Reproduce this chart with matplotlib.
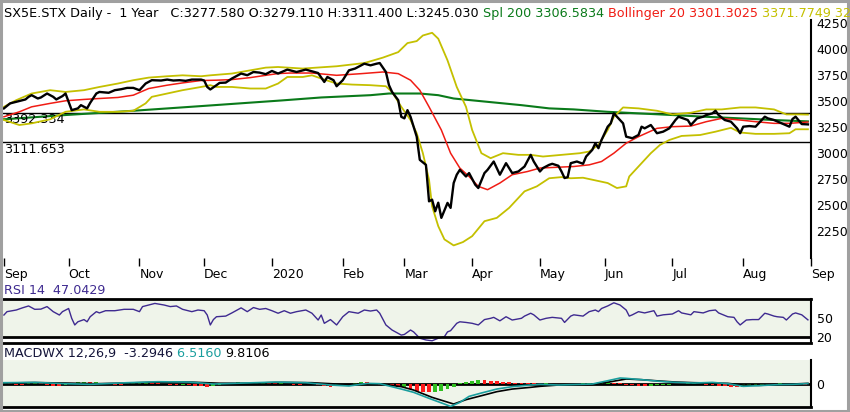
import matplotlib
matplotlib.use("Agg")
import matplotlib.pyplot as plt
import matplotlib.transforms as mtransforms
from matplotlib.patches import Rectangle
import numpy as np

# ---------------- data (session = weekday index from 2 Sep 2019) ----------------
month_pos = [0, 21, 44, 65, 87, 110, 130, 152, 174, 195, 217, 240, 262]
month_lab = ["Sep", "Oct", "Nov", "Dec", "2020", "Feb", "Mar", "Apr", "May", "Jun", "Jul", "Aug", "Sep"]

close_s = [0, 2, 4, 5, 7, 8, 9, 11, 12, 14, 16, 17, 19, 20, 21, 22, 24, 25, 27, 28, 30, 31, 33, 34, 36, 38,
           40, 42, 44, 46, 48, 51, 53, 55, 57, 59, 61, 64, 65, 66, 67, 69, 70, 72, 74, 77, 79, 81, 83, 85,
           87, 89, 92, 95, 98, 102, 104, 105, 107, 108, 110, 112, 114, 117, 119, 121, 122, 124, 125, 126,
           128, 129, 130, 131, 132, 134, 135, 137, 138, 139, 140, 141, 142, 144, 145, 146, 147, 148, 150,
           151, 153, 154, 156, 157, 159, 161, 163, 165, 167, 169, 171, 172, 174, 175, 177, 178, 180, 181,
           182, 183, 184, 186, 188, 189, 191, 192, 193, 194, 196, 197, 198, 199, 201, 202, 204, 206, 207,
           208, 210, 212, 214, 216, 218, 219, 222, 223, 225, 227, 228, 230, 231, 232, 234, 236, 238, 239,
           240, 242, 244, 247, 248, 250, 253, 255, 256, 257, 259, 261]
close_v = [3432, 3480, 3495, 3502, 3518, 3543, 3559, 3527, 3537, 3575, 3543, 3518, 3550, 3575, 3495, 3415,
           3432, 3463, 3432, 3485, 3575, 3590, 3585, 3582, 3607, 3616, 3629, 3629, 3607, 3671, 3703, 3700,
           3709, 3700, 3703, 3697, 3709, 3709, 3700, 3638, 3614, 3655, 3677, 3680, 3719, 3767, 3751, 3782,
           3776, 3761, 3792, 3767, 3805, 3782, 3805, 3772, 3686, 3734, 3703, 3645, 3703, 3798, 3815, 3862,
           3846, 3862, 3868, 3782, 3655, 3590, 3511, 3351, 3336, 3415, 3351, 3160, 2937, 2889, 2538, 2554,
           2442, 2525, 2379, 2523, 2475, 2714, 2794, 2841, 2777, 2810, 2698, 2666, 2810, 2841, 2921, 2794,
           2905, 2810, 2825, 2873, 2985, 2921, 2825, 2858, 2889, 2899, 2880, 2825, 2762, 2770, 2905, 2921,
           2899, 2969, 3033, 3097, 3049, 3128, 3256, 3288, 3384, 3352, 3288, 3160, 3145, 3176, 3256, 3240,
           3272, 3193, 3208, 3240, 3320, 3352, 3320, 3272, 3336, 3352, 3368, 3384, 3409, 3368, 3320, 3304,
           3240, 3193, 3256, 3262, 3256, 3352, 3336, 3320, 3281, 3256, 3330, 3352, 3281, 3278]

sma200_s = [0, 20, 42, 64, 90, 103, 119, 125, 135, 141, 146, 157, 168, 177, 185, 196, 206, 217, 228, 239, 250, 261]
sma200_v = [3327, 3368, 3409, 3454, 3508, 3537, 3559, 3575, 3575, 3559, 3527, 3495, 3463, 3432, 3422, 3399,
            3384, 3368, 3351, 3336, 3320, 3307]

mid_s = [0, 5, 9, 15, 20, 26, 31, 37, 42, 47, 53, 58, 64, 69, 74, 80, 85, 89, 93, 100, 108, 116, 123, 128,
         132, 135, 138, 142, 145, 148, 151, 154, 157, 161, 165, 170, 174, 185, 190, 194, 198, 202, 206, 212,
         217, 223, 228, 233, 239, 244, 250, 255, 261]
mid_v = [3351, 3399, 3447, 3480, 3505, 3518, 3527, 3537, 3559, 3623, 3655, 3677, 3700, 3703, 3709, 3728,
         3750, 3767, 3772, 3772, 3750, 3766, 3782, 3766, 3703, 3607, 3447, 3224, 3001, 2858, 2777, 2682,
         2650, 2714, 2794, 2825, 2858, 2873, 2889, 2921, 3001, 3097, 3160, 3240, 3256, 3262, 3304, 3336,
         3320, 3304, 3288, 3288, 3301]

up_s = [0, 4, 9, 15, 20, 26, 31, 37, 42, 47, 53, 58, 64, 67, 74, 80, 85, 89, 97, 108, 117, 123, 128, 131,
        134, 136, 139, 141, 144, 147, 150, 152, 155, 158, 162, 167, 171, 175, 181, 187, 190, 193, 196, 198,
        201, 206, 212, 217, 223, 228, 233, 239, 244, 250, 254, 258, 261]
up_v = [3447, 3511, 3575, 3607, 3590, 3607, 3638, 3671, 3703, 3728, 3741, 3750, 3741, 3750, 3767, 3798,
        3824, 3830, 3815, 3837, 3868, 3920, 3973, 4060, 4079, 4133, 4159, 4102, 3894, 3638, 3447, 3224,
        3001, 2953, 3001, 2985, 2985, 2969, 2985, 3001, 3017, 3081, 3224, 3351, 3441, 3432, 3409, 3374,
        3390, 3422, 3422, 3441, 3441, 3422, 3374, 3374, 3372]

lo_s = [0, 5, 9, 15, 20, 26, 31, 37, 42, 46, 48, 53, 58, 64, 67, 69, 74, 80, 85, 89, 92, 97, 100, 104, 108,
        113, 119, 124, 126, 129, 132, 134, 136, 138, 139, 141, 143, 146, 149, 152, 156, 160, 164, 169, 173,
        177, 181, 184, 188, 191, 196, 199, 202, 203, 206, 210, 213, 216, 220, 226, 231, 236, 239, 244, 250,
        255, 257, 261]
lo_v = [3320, 3272, 3288, 3327, 3399, 3422, 3399, 3399, 3409, 3480, 3543, 3575, 3607, 3638, 3655, 3638,
        3638, 3623, 3623, 3671, 3734, 3734, 3750, 3709, 3671, 3661, 3655, 3645, 3590, 3447, 3320, 3193,
        3001, 2746, 2490, 2299, 2172, 2114, 2146, 2203, 2347, 2379, 2475, 2634, 2682, 2760, 2771, 2760,
        2765, 2746, 2714, 2666, 2682, 2777, 2873, 3001, 3081, 3128, 3167, 3176, 3208, 3245, 3200, 3187,
        3187, 3193, 3231, 3231]

rsi_s = [0, 1, 4, 6, 8, 10, 12, 14, 16, 18, 19, 21, 22, 23, 24, 26, 27, 28, 30, 31, 33, 36, 39, 42, 44, 45,
         47, 49, 52, 54, 56, 58, 61, 63, 65, 66, 67, 68, 69, 72, 74, 77, 79, 81, 83, 85, 87, 89, 91, 93, 95,
         98, 100, 102, 103, 104, 106, 108, 110, 112, 115, 117, 119, 121, 122, 124, 126, 129, 130, 132, 133,
         135, 137, 139, 141, 143, 144, 145, 147, 148, 150, 152, 154, 156, 158, 159, 161, 163, 165, 168, 169,
         171, 172, 174, 176, 178, 181, 182, 184, 185, 188, 190, 192, 193, 194, 196, 198, 200, 202, 203, 204,
         206, 208, 211, 212, 214, 217, 219, 220, 223, 224, 227, 229, 231, 232, 235, 237, 238, 239, 241, 243,
         245, 247, 248, 250, 251, 253, 254, 256, 257, 259, 261]
rsi_v = [54.7, 60, 62.6, 66, 69, 63.7, 64, 68, 60, 54.7, 60, 65, 49.5, 39, 44, 47.5, 44, 52, 60, 58, 61.5,
         61.5, 63.7, 63.7, 60, 68, 70.5, 73, 70.5, 68, 69, 63.7, 60, 62.6, 61.5, 54.7, 39, 47.5, 52, 53, 58,
         66, 60, 66.5, 63.7, 65, 61.5, 57.5, 61.5, 57.5, 60, 62.6, 57.5, 46.8, 54.7, 41.6, 47.5, 39, 52, 60,
         57.5, 62.6, 61, 62.6, 57.5, 39, 31, 23, 24, 31, 28, 18, 15.3, 14, 18, 20.5, 28, 30, 41.6, 44, 43,
         41.6, 39, 47.5, 49.5, 51, 45.5, 52, 46.8, 49.5, 53, 57.5, 55, 46.8, 49.5, 51, 49.5, 43, 53, 55, 53,
         60, 62.6, 60, 65, 69, 74, 70.5, 62.6, 53, 55, 60, 58, 61.5, 53, 55, 56.3, 61.5, 58, 55, 60, 58, 61.5,
         62.6, 58, 52, 51, 44, 39, 46.8, 47.5, 47.5, 57.5, 56.3, 53, 52, 51, 46.8, 56.3, 58, 55, 47.04]

macd_s = [0, 10, 20, 28, 40, 50, 60, 68, 78, 88, 98, 106, 112, 118, 122, 129, 133, 138, 143, 145, 148, 151,
          155, 160, 165, 171, 174, 180, 191, 196, 200, 202, 207, 213, 218, 224, 230, 235, 240, 245, 251, 256, 261]
macd_v = [20, 25, 5, -5, 20, 35, 30, 0, 15, 30, 20, -15, -30, 10, 5, -76, -126, -217, -303, -340, -278, -187,
          -136, -76, -40, -15, -5, -15, 0, 50, 91, 86, 66, 40, 25, 15, 25, 5, -35, -25, -10, -5, 6.516]

sig_s = [0, 10, 20, 30, 40, 50, 60, 70, 80, 90, 100, 110, 118, 122, 129, 133, 139, 146, 150, 155, 160, 165,
         171, 174, 180, 191, 197, 202, 207, 213, 218, 224, 230, 235, 240, 245, 251, 256, 261]
sig_v = [15, 22, 15, 5, 15, 28, 30, 12, 12, 25, 20, -5, 0, 2, -40, -91, -202, -303, -237, -177, -116, -76,
         -50, -35, -15, -5, 35, 76, 66, 45, 30, 20, 15, 10, -15, -20, -10, 0, 9.811]

hist_s = list(range(0, 261, 2))
hist_v = [24, 18, -12, -18, 15, 21, 12, -9, -24, -36, -18,
          12, 30, 36, 24, 30, 18, 9, -9, -15, 12, 18,
          24, 30, 18, 9, -6, -12, -18, -9, -15, -24, -30,
          -42, -30, -12, 6, 18, 24, 15, 6, 18, 27, 15,
          9, 18, 6, -9, -18, -6, 9, -12, -30, -42, -24,
          -36, -18, 12, 30, 24, 15,
          -10, -20, -35, -50, -45, -75, -100, -120, -126, -120, -110, -80, -45,
          10, 35, 50, 60, 55, 50, 40, 32, 24, 18, 14,
          12, 9, 6, 9, -6, -12, -20, -15, -6, 10, 15,
          18, 22, 25, 20, 12, -10, -20, -25, -30, -26, -20,
          -15, -10, -6, 6, 9, 12, 8, -10, -18, -25, -32,
          -40, -45, -42, -35, -25, -15, -8, 6, 10, 7, -4, -6, -8]

hline_a = 3392.334
hline_b = 3111.653
price_ticks = [2250, 2500, 2750, 3000, 3250, 3500, 3750, 4000, 4250]

# ---------------- styling ----------------
C_YEL = "#c4c000"
C_RED = "#f01c14"
C_GRN = "#0a7a1a"
C_TEAL = "#1a9e9e"
C_PUR = "#3e2a90"
C_FILL = "#eff4ea"
FS = 9
FSH = 9.2

W, H = 850, 412
plt.rcParams['font.family'] = ['DejaVu Sans']
fig = plt.figure(figsize=(W / 100, H / 100), dpi=100)
fig.patch.set_facecolor("white")


def ax_at(x0, y0, x1, y1):
    return fig.add_axes([x0 / W, 1 - y1 / H, (x1 - x0) / W, (y1 - y0) / H])


XL = (-0.3, 262.0)

# ---------------- main price panel ----------------
ax = ax_at(3, 20, 811, 258)
ax.set_xlim(*XL)
ax.set_ylim(1993, 4282)
for sp in ["top", "left", "bottom"]:
    ax.spines[sp].set_visible(False)
ax.spines["right"].set_linewidth(1.5)
ax.axhline(hline_a, color="black", lw=1.0, zorder=1)
ax.axhline(hline_b, color="black", lw=1.0, zorder=1)
trans = mtransforms.blended_transform_factory(ax.transAxes, ax.transData)
ax.text(0.001, hline_a, "%.3f" % hline_a, transform=trans, va="top", ha="left", fontsize=FSH)
ax.text(0.001, hline_b - 15, "%.3f" % hline_b, transform=trans, va="top", ha="left", fontsize=FSH)

ax.plot(sma200_s, sma200_v, color=C_GRN, lw=1.5, zorder=2)
ax.plot(up_s, up_v, color=C_YEL, lw=1.3, zorder=3)
ax.plot(lo_s, lo_v, color=C_YEL, lw=1.3, zorder=3)
ax.plot(mid_s, mid_v, color=C_RED, lw=1.1, zorder=4)
ax.plot(close_s, close_v, color="black", lw=1.7, zorder=5)

ax.yaxis.tick_right()
ax.set_yticks(price_ticks)
ax.set_yticklabels([str(t) for t in price_ticks])
ax.tick_params(axis="y", length=0, pad=4, labelsize=FS)
ax.set_xticks(month_pos)
ax.set_xticklabels(month_lab)
ax.tick_params(axis="x", length=6, width=1, direction="out", pad=1, labelsize=FS)
for lab in ax.get_xticklabels():
    lab.set_horizontalalignment("left")

# ---------------- RSI panel ----------------
ar = ax_at(3, 299, 811, 343)
ar.set_xlim(*XL)
ar.set_ylim(10.5, 80)
ar.axhspan(20, 80, color=C_FILL, lw=0, zorder=0)
ar.axhline(20, color="black", lw=2, zorder=3)
ar.plot(rsi_s, rsi_v, color=C_PUR, lw=1.0, zorder=2)
ar.spines["left"].set_visible(False)
ar.spines["top"].set_linewidth(2)
ar.spines["bottom"].set_linewidth(2)
ar.spines["right"].set_linewidth(1.5)
ar.set_xticks([])
ar.yaxis.tick_right()
ar.set_yticks([50, 20])
ar.set_yticklabels(["50", "20"])
ar.tick_params(axis="y", length=0, pad=4, labelsize=FS)

# ---------------- MACD panel ----------------
am = ax_at(3, 360, 811, 407)
am.set_xlim(*XL)
am.set_ylim(-348, 364)
am.set_facecolor(C_FILL)
cols = []
for i, v in enumerate(hist_v):
    prev = hist_v[i - 1] if i > 0 else v
    cols.append("#2fbf1f" if v >= prev else "#ff1a1a")
am.axhline(0, color="black", lw=2, zorder=2)
am.bar(hist_s, hist_v, width=1.25, color=cols, lw=0, zorder=3)
am.plot(sig_s, sig_v, color="black", lw=1.2, zorder=4)
am.plot(macd_s, macd_v, color=C_TEAL, lw=1.2, zorder=5)
for sp in ["top", "left"]:
    am.spines[sp].set_visible(False)
am.spines["bottom"].set_linewidth(2)
am.spines["right"].set_linewidth(1.5)
am.set_xticks([])
am.yaxis.tick_right()
am.set_yticks([0])
am.set_yticklabels(["0"])
am.tick_params(axis="y", length=0, pad=4, labelsize=FS)

# ---------------- headers ----------------
renderer = fig.canvas.get_renderer()


def seq_text(x_px, y_px, parts):
    x = x_px
    for s, c in parts:
        t = fig.text(x / W, 1 - y_px / H, s, color=c, fontsize=FSH, ha="left", va="baseline")
        x += t.get_window_extent(renderer=renderer).width


seq_text(4, 17, [
    ("SX5E.STX Daily -  1 Year   C:3277.580 O:3279.110 H:3311.400 L:3245.030 ", "black"),
    ("Spl 200 3306.5834 ", C_GRN),
    ("Bollinger 20 3301.3025 ", C_RED),
    ("3371.7749 32", C_YEL),
])
seq_text(4, 294, [("RSI 14  47.0429", C_PUR)])
seq_text(4, 357, [("MACDWX 12,26,9  -3.2946 ", "#14143a"), ("6.5160 ", C_TEAL), ("9.8106", "black")])

# figure frame
fig.patches.append(Rectangle((0.001, 0.002), 0.997, 0.996, transform=fig.transFigure,
                             fill=False, edgecolor="#a0a0a0", lw=2.2))

fig.savefig("out.png", dpi=100, facecolor="white")
